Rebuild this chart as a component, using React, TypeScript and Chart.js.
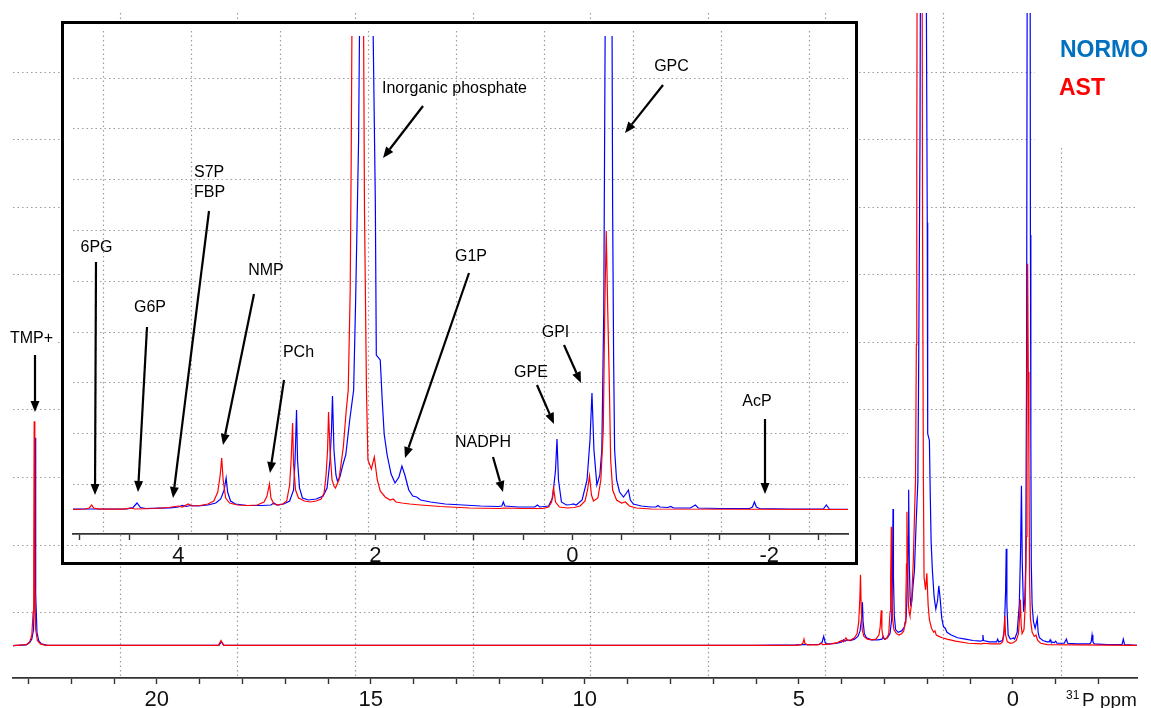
import React, { useEffect, useRef } from 'react';
import { Chart, registerables } from 'chart.js';

Chart.register(...registerables);

const FONT = '"Liberation Sans", Arial, Helvetica, sans-serif';

// ---------------- DATA (31P chemical shift in ppm, intensity in arbitrary units) ----------------
const normoPpm = [
  23.36, 23.05, 22.97, 22.92, 22.88, 22.86, 22.845, 22.83, 22.8, 22.76, 22.7, 22.55, 20.0, 18.55, 18.49, 18.43,
  15.0, 10.0, 6.0, 5.07, 4.9, 4.52, 4.46, 4.42, 4.385, 4.33, 4.2, 4.08, 4.0, 3.96, 3.92, 3.88, 3.8, 3.7, 3.62,
  3.57, 3.535, 3.515, 3.5, 3.47, 3.42, 3.3, 3.15, 3.06, 3.03, 3.0, 2.93, 2.87, 2.83, 2.815, 2.8, 2.79, 2.77,
  2.74, 2.68, 2.6, 2.53, 2.49, 2.46, 2.445, 2.435, 2.42, 2.4, 2.385, 2.36, 2.33, 2.3, 2.26, 2.22, 2.2, 2.17,
  2.15, 2.09, 2.025, 2.0, 1.99, 1.95, 1.93, 1.91, 1.88, 1.84, 1.8, 1.76, 1.73, 1.7, 1.66, 1.62, 1.58, 1.54,
  1.44, 1.29, 1.11, 0.93, 0.75, 0.715, 0.7, 0.685, 0.55, 0.38, 0.355, 0.33, 0.24, 0.2, 0.17, 0.155, 0.14,
  0.11, 0.06, 0.01, -0.01, -0.04, -0.1, -0.15, -0.18, -0.2, -0.22, -0.25, -0.28, -0.3, -0.32, -0.34, -0.375,
  -0.4, -0.41, -0.42, -0.43, -0.45, -0.48, -0.52, -0.55, -0.57, -0.59, -0.62, -0.7, -0.8, -0.85, -0.87, -0.89,
  -0.97, -1.0, -1.03, -1.2, -1.25, -1.28, -1.5, -1.8, -1.83, -1.85, -1.87, -1.9, -2.2, -2.55, -2.58, -2.61, -2.9,
];
const normoIntensity = [
  0.3, 0.8, 2.5, 5, 12, 35, 152, 38, 10, 4, 1.5, 0.5, 0.4, 0.5, 3, 0.5,
  0.4, 0.5, 0.5, 0.8, 1, 1.2, 2.5, 7, 2.5, 1.5, 1.8, 2.2, 3, 4.5, 3.5, 4.5, 4, 5, 7,
  11, 20, 32, 18, 9, 6, 4.5, 4.5, 5, 7, 5, 6, 9, 20, 50, 100, 50, 22,
  12, 10, 11, 14, 22, 50, 80, 114, 60, 35, 29, 33, 45, 55, 90, 120, 209, 369,
  600, 1500, 500, 309, 155, 150, 110, 76, 55, 36, 27, 33, 44, 35, 20, 14, 13, 10,
  8, 6, 5, 4, 3.5, 4, 8, 4, 3, 3, 5, 3, 4, 12, 40, 71, 30,
  8, 5, 5.5, 6, 5, 10, 30, 70, 117, 60, 25, 35, 60, 200, 600, 2000,
  600, 300, 150, 60, 30, 18, 13, 17, 20, 10, 6, 4, 3, 3, 4.5, 3,
  2.5, 3.5, 2, 2, 5, 2, 1.5, 1.5, 3, 8, 3, 1.5, 1, 1, 5, 1, 0.5,
];

const astPpm = [
  23.36, 23.05, 22.97, 22.92, 22.89, 22.875, 22.865, 22.85, 22.83, 22.79, 22.72, 22.6, 18.56, 18.5, 18.44,
  5.07, 4.95, 4.905, 4.88, 4.86, 4.8, 4.55, 4.49, 4.44, 4.25, 4.1, 4.0, 3.96, 3.9, 3.86, 3.78, 3.7, 3.64, 3.6,
  3.575, 3.56, 3.545, 3.52, 3.48, 3.4, 3.3, 3.2, 3.13, 3.1, 3.075, 3.06, 3.03, 2.98, 2.94, 2.9, 2.87, 2.855,
  2.84, 2.83, 2.81, 2.78, 2.72, 2.66, 2.6, 2.55, 2.52, 2.5, 2.485, 2.475, 2.46, 2.44, 2.42, 2.405, 2.37, 2.325,
  2.295, 2.275, 2.255, 2.245, 2.225, 2.185, 2.13, 2.11, 2.09, 2.075, 2.04, 2.01, 1.98, 1.95, 1.9, 1.85, 1.82,
  1.79, 1.73, 1.65, 1.54, 1.34, 1.04, 0.73, 0.7, 0.5, 0.3, 0.24, 0.21, 0.19, 0.17, 0.13, 0.05, -0.02, -0.08,
  -0.13, -0.155, -0.175, -0.195, -0.215, -0.26, -0.29, -0.315, -0.33, -0.345, -0.36, -0.375, -0.39, -0.41,
  -0.45, -0.5, -0.54, -0.58, -0.65, -0.8, -2.9,
];
const astIntensity = [
  0.3, 1, 3, 8, 25, 60, 164, 45, 12, 4, 1.5, 0.5, 0.5, 4, 0.5,
  0.5, 1, 2, 5, 2, 0.8, 0.8, 2, 1, 1.5, 2.5, 4, 3, 6, 4, 4.5, 6, 9, 18,
  35, 52, 30, 12, 7, 5, 4.5, 5, 8, 14, 26, 12, 6, 5, 6, 9, 25, 50,
  87, 45, 20, 12, 9, 8, 9, 11, 17, 35, 60, 98, 60, 30, 24, 22, 30, 63,
  100, 120, 220, 350, 700, 1500, 700, 300, 120, 50, 41, 53, 30, 19, 13, 10, 11,
  8, 7, 6, 5, 3.5, 2, 1.5, 2, 1.5, 1.5, 3, 8, 22, 8, 3, 2, 2.5, 4,
  9, 20, 34, 15, 9, 12, 30, 80, 200, 279, 200, 133, 50, 20,
  10, 7, 8, 4, 2, 1, 0.5,
];

const seriesNames = ['NORMO', 'AST'];

const mainTickValues = [23, 22, 21, 20, 19, 18, 17, 16, 15, 14, 13, 12, 11, 10, 9, 8, 7, 6, 5, 4, 3, 2, 1, 0, -1, -2];
const mainLabelValues = [20, 15, 10, 5, 0];
const mainTickLabels = ['20', '15', '10', '5', '0'];

const insetTickValues = [5, 4.5, 4, 3.5, 3, 2.5, 2, 1.5, 1, 0.5, 0, -0.5, -1, -1.5, -2, -2.5];
const insetLabelValues = [4, 2, 0, -2];
const insetTickLabels = ['4', '2', '0', '-2'];

// peak annotations inside the inset (page pixel layout)
const insetNotes = [
  { lines: ['6PG'], tx: 96.5, ty: 252, align: 'center', from: [96, 262], to: [95, 495] },
  { lines: ['G6P'], tx: 150, ty: 312, align: 'center', from: [147, 327], to: [138, 492] },
  { lines: ['S7P', 'FBP'], tx: 194, ty: 177, align: 'left', from: [209, 211], to: [173, 498] },
  { lines: ['NMP'], tx: 266, ty: 275, align: 'center', from: [254, 294], to: [223, 445] },
  { lines: ['PCh'], tx: 298.5, ty: 357, align: 'center', from: [284, 380], to: [270, 473] },
  { lines: ['Inorganic phosphate'], tx: 382, ty: 93, align: 'left', from: [423, 106], to: [383, 158] },
  { lines: ['G1P'], tx: 471, ty: 261, align: 'center', from: [469, 273], to: [405, 458] },
  { lines: ['NADPH'], tx: 483, ty: 447, align: 'center', from: [493, 457], to: [503, 492] },
  { lines: ['GPE'], tx: 531, ty: 377, align: 'center', from: [537, 385], to: [554, 424] },
  { lines: ['GPI'], tx: 555.5, ty: 337, align: 'center', from: [564, 345], to: [581, 383] },
  { lines: ['GPC'], tx: 671.5, ty: 71, align: 'center', from: [663, 85], to: [625, 133] },
  { lines: ['AcP'], tx: 757, ty: 406, align: 'center', from: [765, 419], to: [765, 494] },
];

// ---------------- LAYOUT ----------------
const W = 1151;
const H = 708;
const BOX = { left: 61, top: 21, width: 797, height: 544, border: 3 };
const IN_X = BOX.left + BOX.border;
const IN_Y = BOX.top + BOX.border;
const IN_W = BOX.width - 2 * BOX.border;
const IN_H = BOX.height - 2 * BOX.border;
const GRID_COLOR = 'rgba(140,140,140,0.85)';

const mainGridPpm = [0, 1, 2, 3, 4, 5, 6, 7, 8].map((k) => 20.864 - 2.7477 * k);
const mainGridLevels = [0, 1, 2, 3, 4, 5, 6, 7, 8].map((k) => 24.8 + 49.27 * k);
const insetGridPpm = [0, 1, 2, 3, 4, 5, 6, 7, 8].map((k) => 4.766 - 0.8965 * k);
const insetGridLevels = [0, 1, 2, 3, 4, 5, 6, 7, 8].map((k) => 26 + 50.8 * k);

const toPoints = (xs: number[], ys: number[]) => xs.map((x, i) => ({ x, y: ys[i] }));

function drawArrow(ctx: CanvasRenderingContext2D, x1: number, y1: number, x2: number, y2: number) {
  const ang = Math.atan2(y2 - y1, x2 - x1);
  const len = 11;
  const hw = 4.5;
  const bx = x2 - len * Math.cos(ang);
  const by = y2 - len * Math.sin(ang);
  ctx.save();
  ctx.strokeStyle = '#000';
  ctx.fillStyle = '#000';
  ctx.lineWidth = 2.2;
  ctx.beginPath();
  ctx.moveTo(x1, y1);
  ctx.lineTo(bx, by);
  ctx.stroke();
  ctx.beginPath();
  ctx.moveTo(x2, y2);
  ctx.lineTo(bx + hw * Math.sin(ang), by - hw * Math.cos(ang));
  ctx.lineTo(bx - hw * Math.sin(ang), by + hw * Math.cos(ang));
  ctx.closePath();
  ctx.fill();
  ctx.restore();
}

function dottedLine(ctx: CanvasRenderingContext2D, x1: number, y1: number, x2: number, y2: number) {
  ctx.beginPath();
  ctx.moveTo(x1, y1);
  ctx.lineTo(x2, y2);
  ctx.stroke();
}

function makeDatasets() {
  return [
    {
      label: seriesNames[1],
      data: toPoints(astPpm, astIntensity),
      borderColor: '#ff0000',
      borderWidth: 1.2,
      pointRadius: 0,
      tension: 0,
      clip: 0,
      order: 0,
    },
    {
      label: seriesNames[0],
      data: toPoints(normoPpm, normoIntensity),
      borderColor: '#0000ff',
      borderWidth: 1.2,
      pointRadius: 0,
      tension: 0,
      clip: 0,
      order: 1,
    },
  ];
}

const mainDecor = {
  id: 'mainDecor',
  beforeDatasetsDraw(chart: any) {
    const { ctx, chartArea: a, scales } = chart;
    const x = scales.x;
    const y = scales.y;
    ctx.save();
    ctx.strokeStyle = GRID_COLOR;
    ctx.lineWidth = 1.2;
    ctx.setLineDash([1.5, 3]);
    for (const v of mainGridPpm) {
      const px = Math.round(x.getPixelForValue(v)) + 0.5;
      dottedLine(ctx, px, a.top, px, a.bottom - 2);
    }
    for (const v of mainGridLevels) {
      const py = Math.round(y.getPixelForValue(v)) + 0.5;
      dottedLine(ctx, a.left, py, a.right, py);
    }
    ctx.setLineDash([]);
    ctx.fillStyle = '#fff';
    ctx.fillRect(1035, 0, 116, 146);
    ctx.fillRect(8, 327, 50, 20);
    ctx.restore();
  },
  afterDraw(chart: any) {
    const { ctx, scales } = chart;
    const x = scales.x;
    ctx.save();
    ctx.fillStyle = '#111';
    ctx.textBaseline = 'alphabetic';
    ctx.font = `22px ${FONT}`;
    ctx.textAlign = 'center';
    mainLabelValues.forEach((v, i) => ctx.fillText(mainTickLabels[i], x.getPixelForValue(v), 706));
    ctx.textAlign = 'left';
    ctx.font = `12px ${FONT}`;
    ctx.fillText('31', 1066, 699);
    ctx.font = `19px ${FONT}`;
    ctx.fillText('P ppm', 1082, 706);
    ctx.fillStyle = '#000';
    ctx.font = `16px ${FONT}`;
    ctx.textAlign = 'center';
    ctx.fillText('TMP+', 31.5, 343);
    drawArrow(ctx, 35, 355, 35, 412);
    ctx.font = `bold 23px ${FONT}`;
    ctx.textAlign = 'left';
    ctx.fillStyle = '#0070C0';
    ctx.fillText(seriesNames[0], 1060, 57);
    ctx.fillStyle = '#FF0000';
    ctx.fillText(seriesNames[1], 1059, 95);
    ctx.restore();
  },
};

const insetDecor = {
  id: 'insetDecor',
  beforeDraw(chart: any) {
    const { ctx, chartArea: a } = chart;
    ctx.save();
    ctx.fillStyle = '#fff';
    ctx.fillRect(0, 0, chart.width, a.bottom);
    ctx.restore();
  },
  beforeDatasetsDraw(chart: any) {
    const { ctx, chartArea: a, scales } = chart;
    const x = scales.x;
    const y = scales.y;
    ctx.save();
    ctx.strokeStyle = GRID_COLOR;
    ctx.lineWidth = 1.2;
    ctx.setLineDash([1.5, 3]);
    for (const v of insetGridPpm) {
      const px = Math.round(x.getPixelForValue(v)) + 0.5;
      dottedLine(ctx, px, 7, px, a.bottom - 2);
    }
    for (const v of insetGridLevels) {
      const py = Math.round(y.getPixelForValue(v)) + 0.5;
      dottedLine(ctx, a.left, py, a.right, py);
    }
    ctx.restore();
  },
  afterDraw(chart: any) {
    const { ctx, scales } = chart;
    const x = scales.x;
    ctx.save();
    ctx.fillStyle = '#111';
    ctx.textBaseline = 'alphabetic';
    ctx.font = `22px ${FONT}`;
    ctx.textAlign = 'center';
    insetLabelValues.forEach((v, i) => ctx.fillText(insetTickLabels[i], x.getPixelForValue(v), 537.5));
    ctx.fillStyle = '#000';
    ctx.font = `16px ${FONT}`;
    for (const n of insetNotes) {
      ctx.textAlign = n.align as CanvasTextAlign;
      n.lines.forEach((t, i) => ctx.fillText(t, n.tx - IN_X, n.ty - IN_Y + i * 20));
      drawArrow(ctx, n.from[0] - IN_X, n.from[1] - IN_Y, n.to[0] - IN_X, n.to[1] - IN_Y);
    }
    ctx.restore();
  },
};

function axisOptions(min: number, max: number, tickValues: number[], height: number) {
  return {
    type: 'linear',
    reverse: true,
    min,
    max,
    afterBuildTicks: (s: any) => {
      s.ticks = tickValues.map((v) => ({ value: v }));
    },
    afterFit: (s: any) => {
      s.height = height;
    },
    ticks: { display: false },
    grid: {
      drawOnChartArea: false,
      drawTicks: true,
      tickLength: 6,
      tickColor: '#333',
      tickWidth: 1.4,
    },
    border: { display: true, color: '#333', width: 1.7 },
  };
}

export default function App() {
  const mainRef = useRef<HTMLCanvasElement>(null);
  const insetRef = useRef<HTMLCanvasElement>(null);

  useEffect(() => {
    document.body.style.margin = '0';
    const main = new Chart(mainRef.current as HTMLCanvasElement, {
      type: 'line',
      data: { datasets: makeDatasets() as any },
      options: {
        responsive: false,
        animation: false,
        events: [],
        layout: { autoPadding: false, padding: { left: 13, right: 14, top: 13, bottom: 0 } },
        plugins: { legend: { display: false }, tooltip: { enabled: false } },
        scales: {
          x: axisOptions(-2.9, 23.36, mainTickValues, 30) as any,
          y: { type: 'linear', display: false, min: -23.36, max: 462 },
        },
      },
      plugins: [mainDecor],
    });
    const inset = new Chart(insetRef.current as HTMLCanvasElement, {
      type: 'line',
      data: { datasets: makeDatasets() as any },
      options: {
        responsive: false,
        animation: false,
        events: [],
        layout: { autoPadding: false, padding: { left: 9, right: 7, top: 12, bottom: 0 } },
        plugins: { legend: { display: false }, tooltip: { enabled: false } },
        scales: {
          x: axisOptions(-2.8, 5.07, insetTickValues, 28) as any,
          y: { type: 'linear', display: false, min: -24, max: 474 },
        },
      },
      plugins: [insetDecor],
    });
    return () => {
      main.destroy();
      inset.destroy();
    };
  }, []);

  return (
    <div style={{ position: 'relative', width: W, height: H, overflow: 'hidden', background: '#fff' }}>
      <canvas ref={mainRef} width={W} height={H} style={{ position: 'absolute', left: 0, top: 0 }} />
      <div
        style={{
          position: 'absolute',
          left: BOX.left,
          top: BOX.top,
          width: BOX.width,
          height: BOX.height,
          border: `${BOX.border}px solid #000`,
          boxSizing: 'border-box',
        }}
      >
        <canvas ref={insetRef} width={IN_W} height={IN_H} style={{ position: 'absolute', left: 0, top: 0 }} />
      </div>
    </div>
  );
}
